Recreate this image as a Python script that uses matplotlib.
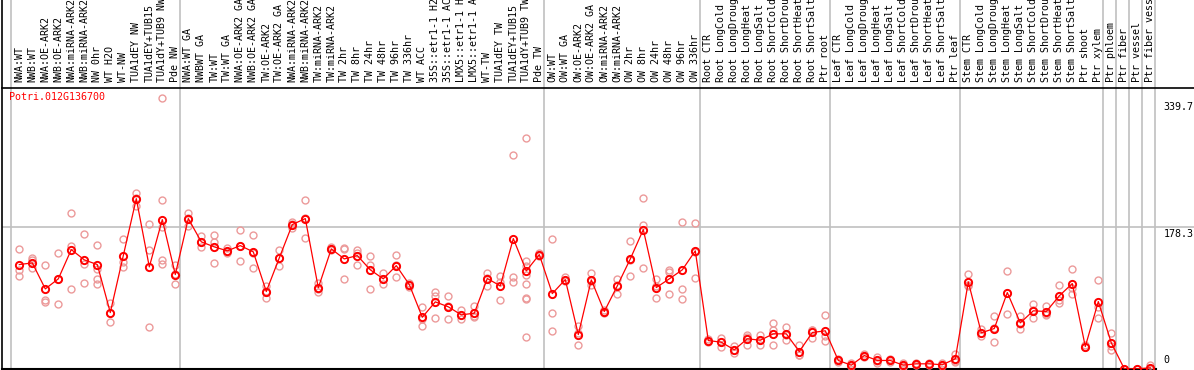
import numpy as np
import matplotlib
matplotlib.use("Agg")
import matplotlib.pyplot as plt
import matplotlib.transforms as mtransforms

# sample labels (cut to 14 chars like the original)
labels = [
    "NWA:WT", "NWB:WT", "NWA:OE-ARK2", "NWB:OE-ARK2", "NWA:miRNA-ARK2", "NWB:miRNA-ARK2",
    "NW 0hr", "WT H2O", "WT-NW", "TUA1dEY NW", "TUA1dEY+TUB15", "TUA1dY+TUB9 NW", "Pde NW",
    "NWA:WT GA", "NWBWT GA", "TW:WT", "TW:WT GA", "NWA:OE-ARK2 GA", "NWB:OE-ARK2 GA",
    "TW:OE-ARK2", "TW:OE-ARK2 GA", "NWA:miRNA-ARK2", "NWB:miRNA-ARK2", "TW:miRNA-ARK2",
    "TW:miRNA-ARK2", "TW 2hr", "TW 8hr", "TW 24hr", "TW 48hr", "TW 96hr", "TW 336hr",
    "WT ACC", "35S::etr1-1 H2", "35S::etr1-1 AC", "LMX5::etr1-1 H", "LMX5::etr1-1 A",
    "WT-TW", "TUA1dEY TW", "TUA1dEY+TUB15", "TUA1dY+TUB9 TW", "Pde TW",
    "OW:WT", "OW:WT GA", "OW:OE-ARK2", "OW:OE-ARK2 GA", "OW:miRNA-ARK2", "OW:miRNA-ARK2",
    "OW 2hr", "OW 8hr", "OW 24hr", "OW 48hr", "OW 96hr", "OW 336hr",
    "Root CTR", "Root LongCold", "Root LongDroug", "Root LongHeat", "Root LongSalt",
    "Root ShortCold", "Root ShortDrou", "Root ShortHeat", "Root ShortSalt", "Ptr root",
    "Leaf CTR", "Leaf LongCold", "Leaf LongDroug", "Leaf LongHeat", "Leaf LongSalt",
    "Leaf ShortCold", "Leaf ShortDrou", "Leaf ShortHeat", "Leaf ShortSalt", "Ptr leaf",
    "Stem CTR", "Stem LongCold", "Stem LongDroug", "Stem LongHeat", "Stem LongSalt",
    "Stem ShortCold", "Stem ShortDrou", "Stem ShortHeat", "Stem ShortSalt", "Ptr shoot",
    "Ptr xylem", "Ptr phloem", "Ptr fiber", "Ptr vessel", "Ptr fiber vess",
]

# first index of each group (separator lines drawn before them)
group_starts = [0, 13, 41, 53, 63, 73, 84, 85, 86, 87, 88]

means = [
    131.0, 133.1, 100.5, 113.1, 149.8, 136.9, 131.0, 70.8, 142.3, 213.7, 128.1, 187.4, 118.5,
    188.7, 159.5, 153.2, 148.2, 154.8, 146.9, 97.2, 139.4, 181.2, 188.7, 101.8, 150.7, 138.1,
    142.3, 124.4, 113.1, 129.7, 105.9, 64.9, 84.2, 78.0, 67.9, 70.0, 113.5, 104.3, 163.6,
    123.1, 143.5,
    94.6, 112.2, 43.2, 111.8, 72.1, 104.3, 138.1, 174.9, 102.2, 113.1, 124.4, 148.2,
    35.7, 33.6, 24.1, 37.9, 36.1, 44.1, 44.1, 21.9, 45.8, 47.9,
    10.7, 4.8, 16.9, 10.7, 10.7, 4.8, 6.5, 6.5, 5.3, 12.8,
    109.3, 45.4, 50.8, 95.9, 57.9, 73.0, 72.1, 91.8, 107.2, 28.2, 84.6,
    32.8, 0.3, 0.2, 1.5,
]

reps = [
    [150.7, 124.7, 117.2], [138.9, 136.4, 126.4], [131.0, 86.3, 84.6], [146.0, 113.1, 81.7],
    [195.8, 154.4, 100.5], [169.9, 131.4, 108.1], [155.3, 125.6, 113.1, 107.2],
    [83.0, 70.2, 59.2], [163.2, 133.9, 128.1], [221.3, 205.0, 214.0], [182.0, 149.8, 52.9],
    [340.0, 212.1, 178.3, 137.3, 131.4], [130.1, 106.3, 119.0],
    [195.8, 179.9, 190.0], [166.5, 153.2, 159.0], [168.2, 159.8, 133.1], [151.4, 147.3, 146.0],
    [174.9, 135.6, 154.0], [168.2, 127.2, 146.0], [104.7, 88.8, 97.5], [149.8, 129.7, 139.0],
    [184.9, 176.5, 182.0], [212.5, 164.5, 189.0], [108.1, 96.8, 100.5], [153.2, 150.0, 149.0],
    [152.3, 150.7, 113.1], [149.8, 130.6, 146.0], [142.3, 130.6, 100.5], [120.1, 106.8, 112.5],
    [143.2, 115.6, 130.0], [108.1, 103.4, 106.0], [78.0, 53.7, 63.0], [97.2, 92.1, 64.2],
    [91.8, 62.9, 79.0], [73.7, 62.1, 68.0], [79.2, 66.2, 65.0], [121.0, 104.7, 114.5],
    [116.8, 86.7, 109.0], [268.9, 115.1, 108.8],
    [289.8, 135.6, 129.7, 118.1, 106.8, 88.8, 88.0, 40.4], [145.0, 142.0],
    [163.6, 70.5, 47.9], [115.0, 110.0], [53.7, 30.7, 45.0], [120.1, 105.1, 110.0],
    [72.1, 70.5, 73.5], [113.5, 94.3, 105.0], [160.7, 116.8, 137.0], [214.6, 181.1, 126.9],
    [113.5, 88.8, 104.0], [124.7, 121.4, 94.6], [184.5, 100.5, 88.0], [183.3, 114.3, 147.0],
    [38.0, 35.0, 34.0], [39.1, 33.6, 27.8], [28.6, 24.0, 20.3], [43.2, 40.0, 30.3],
    [42.4, 36.0, 30.3], [58.3, 48.6, 29.5], [52.9, 43.0, 36.1], [30.3, 18.0, 17.3],
    [48.6, 49.0, 39.1], [67.9, 41.0, 34.9],
    [12.5, 10.7, 9.0], [6.9, 4.0, 3.5], [18.5, 16.9, 15.5], [14.8, 9.5, 8.0], [12.5, 10.7, 8.5],
    [7.5, 4.0, 3.0], [7.5, 6.5, 5.5], [7.5, 6.5, 5.5], [7.5, 5.0, 3.5], [19.4, 10.5, 8.5],
    [119.3, 105.0, 103.8], [50.4, 45.0, 41.1], [66.2, 52.0, 34.1], [122.6, 95.5, 69.6],
    [66.2, 57.0, 50.4], [81.7, 73.5, 63.7], [79.2, 69.5, 67.9], [105.6, 86.8, 83.0],
    [125.6, 102.2, 93.8], [29.5, 27.5, 27.6], [111.8, 78.3, 63.7],
    [45.4, 29.4, 23.6], [0.3], [0.2], [4.4, 0.5, 0.0],
]

ytick_vals = [0, 178.3, 339.7]
ytick_text = ["0", "178.3", "339.7"]
gene = "Potri.012G136700"

W, H, DPI = 1194, 370, 100
mono = "DejaVu Sans Mono"
fs = 7.2

fig = plt.figure(figsize=(W / DPI, H / DPI), dpi=DPI)
# plot area in pixels: x 2..1194, y 88..369
ax = fig.add_axes([2 / W, 1 / H, (W - 2) / W, (369 - 88) / H])
x0, step = 19.3, 13.0
ax.set_xlim((2 - x0) / step, (W - x0) / step)
ax.set_ylim(0, 352.5)
for s in ["right", "bottom", "top", "left"]:
    ax.spines[s].set_visible(False)
ax.set_xticks([])
ax.set_yticks([])

ext = 1 + 88 / 281.0  # axes fraction reaching the top of the figure

# group separators (light grey, through the label band)
for g in group_starts:
    ax.axvline(g - 0.615, ymin=0, ymax=ext, color="#c0c0c0", lw=1.2, clip_on=False, zorder=0)
ax.axhline(178.3, color="#c0c0c0", lw=1.2, zorder=0)

# frame lines
ax.axvline((2 - x0) / step + 0.02, ymin=0, ymax=ext, color="black", lw=1.2, clip_on=False)
ax.axhline(352.5, color="black", lw=1.2, clip_on=False)
ax.axhline(0.0, xmin=0, xmax=(1156 - 2) / (W - 2), color="black", lw=1.5, clip_on=False)

idx = np.arange(len(labels))

# replicate points
for i, r in enumerate(reps):
    ax.plot([i] * len(r), r, "o", ms=5.0, mfc="none", mec="#ec9a9a", mew=1.0, zorder=2)

# mean line
ax.plot(idx, means, "-", color="red", lw=0.9, zorder=3)
ax.plot(idx, means, "o", ms=5.2, mfc="none", mec="red", mew=1.4, zorder=4)

# sample labels, rotated above the plot
trans = mtransforms.blended_transform_factory(ax.transData, ax.transAxes)
for i, lab in enumerate(labels):
    ax.text(i, 1 + 6 / 281.0, lab, rotation=90, ha="center", va="bottom",
            family=mono, fontsize=fs, transform=trans, clip_on=False)

# value labels on the right
ax.text(88.0, ytick_vals[2] - 5, ytick_text[2], ha="left", va="top", family=mono, fontsize=fs)
ax.text(88.0, ytick_vals[1] - 2.5, ytick_text[1], ha="left", va="top", family=mono, fontsize=fs)
ax.text(88.0, ytick_vals[0] + 4.5, ytick_text[0], ha="left", va="bottom", family=mono, fontsize=fs)

ax.text(7 / 1192, (369 - 97) / 281.0, gene, color="red", ha="left", va="center",
        family=mono, fontsize=fs, transform=ax.transAxes)

fig.savefig("out.png", dpi=DPI)
